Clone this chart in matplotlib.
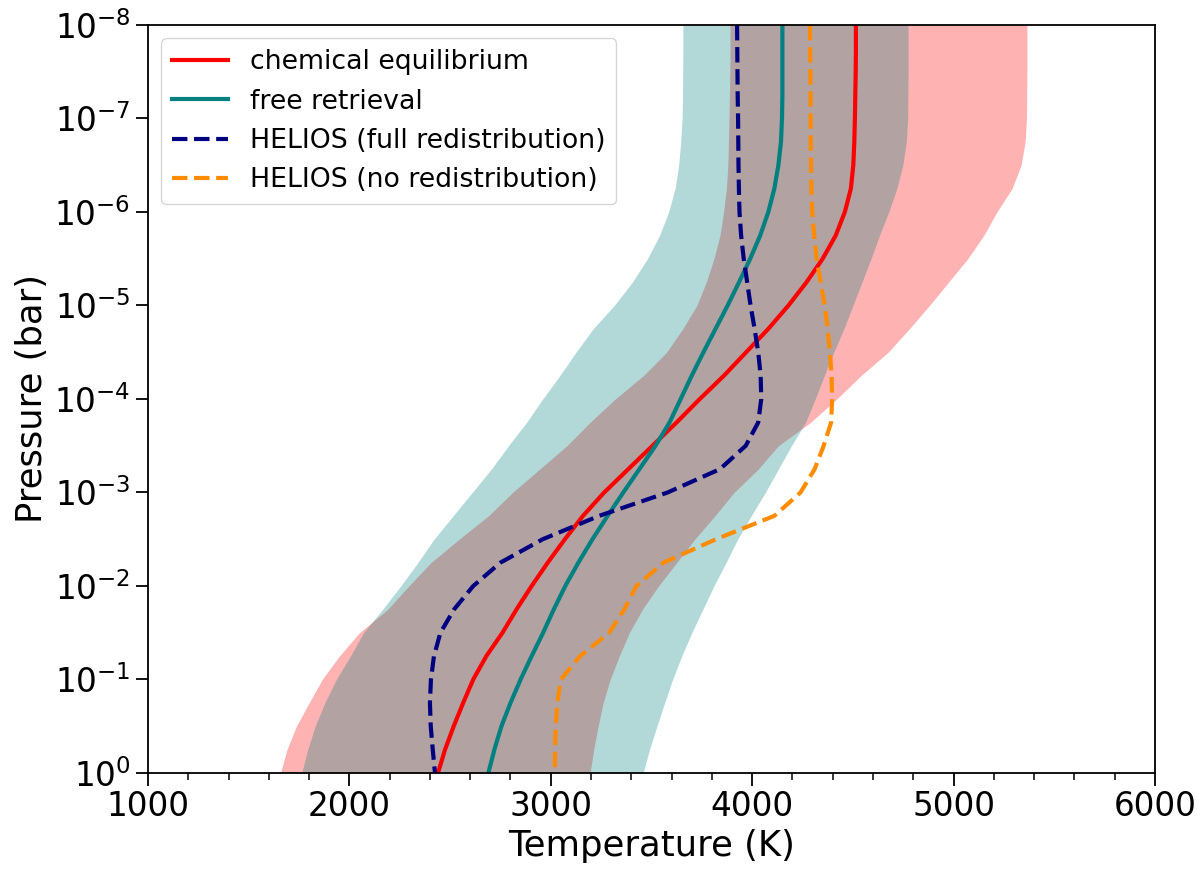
import matplotlib
matplotlib.use("Agg")
import matplotlib.pyplot as plt
import numpy as np
from matplotlib.ticker import MultipleLocator, NullLocator

# log10 of pressure (bar), top of atmosphere -> bottom
log_pressure = [-8.0, -7.75, -7.5, -7.25, -7.0, -6.75, -6.5, -6.25,
                -6.0, -5.75, -5.5, -5.25, -5.0, -4.75, -4.5, -4.25,
                -4.0, -3.75, -3.5, -3.25, -3.0, -2.75, -2.5, -2.25,
                -2.0, -1.75, -1.5, -1.25, -1.0, -0.75, -0.5, -0.25, 0.0]

# temperatures (K)
chem_eq = [4515, 4515, 4514, 4512, 4510, 4507, 4502, 4490,
           4460, 4415, 4350, 4270, 4180, 4080, 3970, 3860,
           3740, 3625, 3505, 3385, 3265, 3160, 3070, 2985,
           2905, 2830, 2760, 2680, 2615, 2565, 2518, 2475, 2440]
chem_lo = [3890, 3890, 3889, 3887, 3885, 3882, 3879, 3872,
           3858, 3840, 3810, 3772, 3725, 3655, 3575, 3460,
           3320, 3195, 3080, 2945, 2810, 2690, 2545, 2405,
           2295, 2190, 2050, 1950, 1865, 1800, 1737, 1690, 1658]
chem_hi = [5364, 5364, 5364, 5363, 5362, 5355, 5335, 5290,
           5215, 5150, 5070, 4975, 4880, 4780, 4675, 4540,
           4420, 4290, 4130, 4030, 3910, 3815, 3715, 3625,
           3535, 3455, 3390, 3340, 3295, 3260, 3235, 3213, 3195]

free_ret = [4150, 4150, 4150, 4150, 4148, 4143, 4130, 4110,
            4080, 4040, 3990, 3935, 3878, 3818, 3758, 3700,
            3645, 3590, 3520, 3440, 3360, 3282, 3207, 3137,
            3072, 3015, 2962, 2905, 2850, 2800, 2755, 2720, 2690]
free_lo = [3656, 3656, 3655, 3654, 3652, 3645, 3635, 3617,
           3585, 3540, 3480, 3405, 3315, 3210, 3125, 3045,
           2960, 2880, 2790, 2705, 2610, 2515, 2420, 2340,
           2255, 2165, 2070, 2005, 1935, 1878, 1830, 1793, 1763]
free_hi = [4774, 4774, 4774, 4773, 4772, 4765, 4748, 4718,
           4678, 4632, 4590, 4545, 4500, 4455, 4405, 4358,
           4313, 4265, 4195, 4130, 4065, 3995, 3928, 3870,
           3810, 3755, 3700, 3650, 3605, 3565, 3527, 3490, 3458]

helios_full = [3925, 3926, 3927, 3928, 3930, 3931, 3932, 3934,
               3937, 3945, 3958, 3975, 3992, 4012, 4030, 4042,
               4045, 4030, 3968, 3840, 3580, 3240, 2960, 2750,
               2615, 2520, 2452, 2420, 2405, 2400, 2404, 2414, 2425]
helios_none = [4287, 4288, 4289, 4290, 4290, 4291, 4292, 4294,
               4298, 4308, 4320, 4340, 4360, 4375, 4386, 4394,
               4397, 4392, 4355, 4310, 4240, 4110, 3820, 3560,
               3425, 3365, 3290, 3145, 3050, 3032, 3025, 3021, 3020]

pressure = 10.0 ** np.asarray(log_pressure)

fig = plt.figure(figsize=(12, 8.77), dpi=100)
ax = fig.add_axes([0.1233, 0.1186, 0.8392, 0.8529])

ax.fill_betweenx(pressure, chem_lo, chem_hi, color="red", alpha=0.3, lw=0)
ax.fill_betweenx(pressure, free_lo, free_hi, color="teal", alpha=0.3, lw=0)

ax.plot(chem_eq, pressure, color="red", lw=3, label="chemical equilibrium")
ax.plot(free_ret, pressure, color="teal", lw=3, label="free retrieval")
ax.plot(helios_full, pressure, color="navy", lw=3, ls="--",
        label="HELIOS (full redistribution)")
ax.plot(helios_none, pressure, color="darkorange", lw=3, ls="--",
        label="HELIOS (no redistribution)")

ax.set_yscale("log")
ax.set_ylim(1, 1e-8)
ax.set_xlim(1000, 6000)
ax.xaxis.set_minor_locator(MultipleLocator(200))
ax.yaxis.set_minor_locator(NullLocator())
ax.set_yticks([1e-8, 1e-7, 1e-6, 1e-5, 1e-4, 1e-3, 1e-2, 1e-1, 1e0])

ax.tick_params(which="major", labelsize=23.5, length=9, width=1.3)
ax.tick_params(which="minor", length=5, width=1.1)
for sp in ax.spines.values():
    sp.set_linewidth(1.3)

ax.set_xlabel("Temperature (K)", fontsize=25.5)
ax.set_ylabel("Pressure (bar)", fontsize=25.5)

ax.legend(loc="upper left", fontsize=19.3, handlelength=2.1)

fig.savefig("out.png", dpi=100)
